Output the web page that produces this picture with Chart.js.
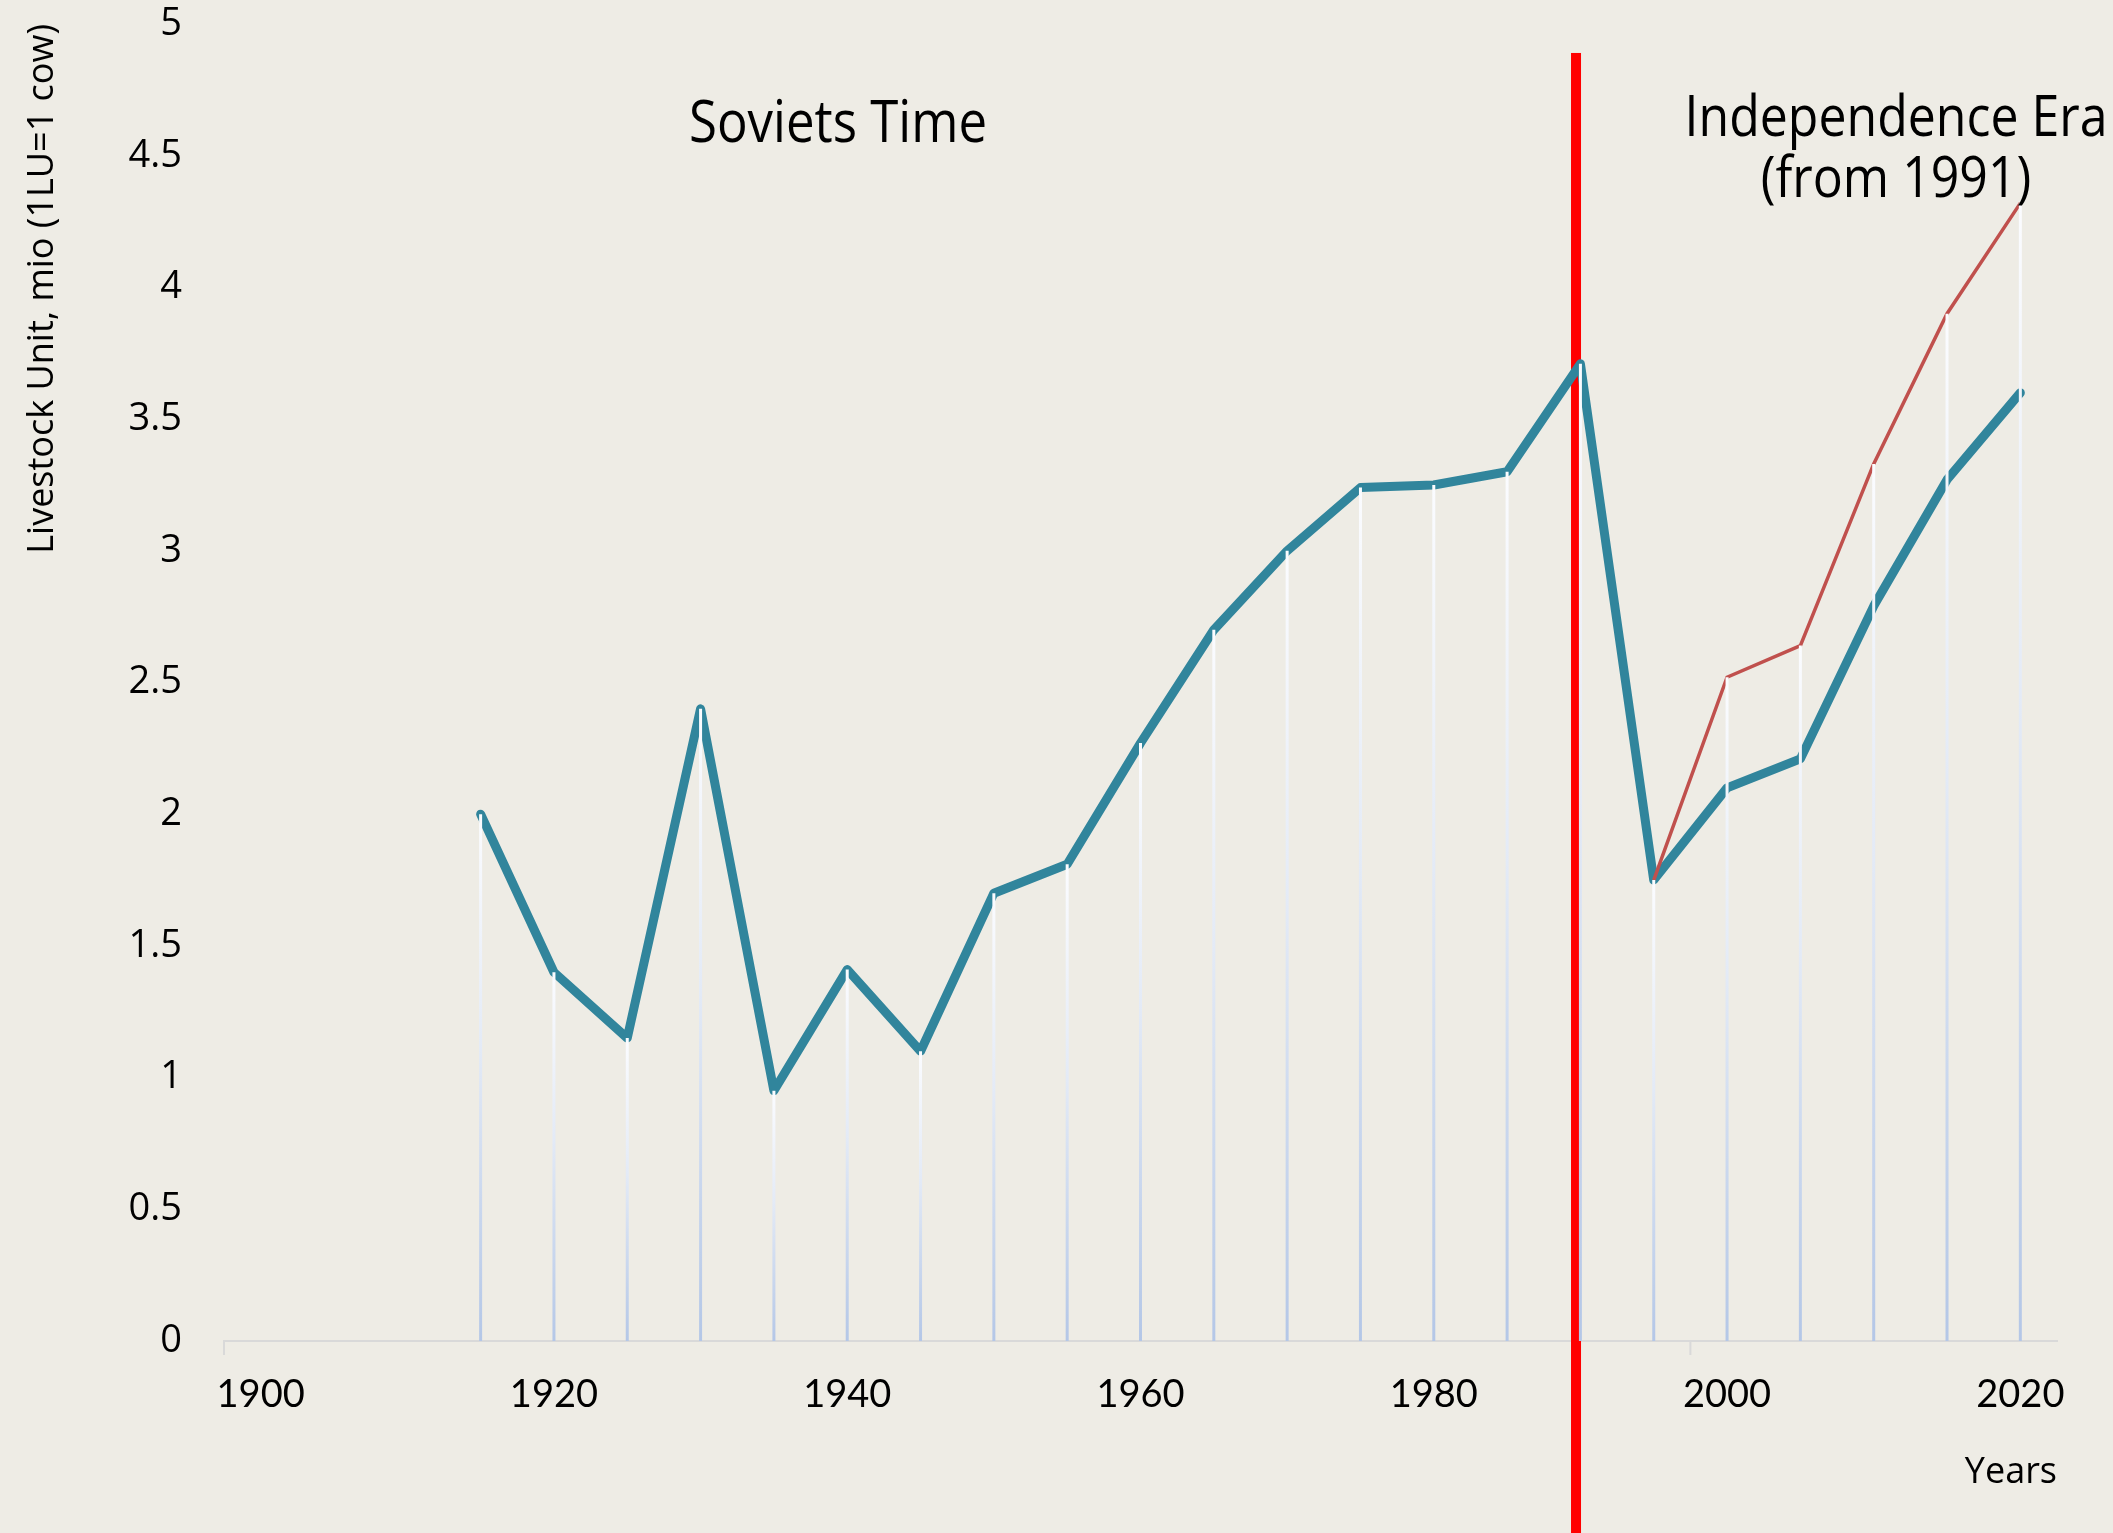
<!DOCTYPE html>
<html>
<head>
<meta charset="utf-8">
<title>Livestock Units</title>
<script src="https://cdn.jsdelivr.net/npm/chart.js@4/dist/chart.umd.min.js"></script>
<style>
  html, body { margin: 0; padding: 0; background: #eeece5; }
  #wrap { width: 2113px; height: 1533px; }
</style>
</head>
<body>
<div id="wrap"><canvas id="lu-chart" width="2113" height="1533"></canvas></div>
<script>
// ── Data ─────────────────────────────────────────────────────────
const years = [1915, 1920, 1925, 1930, 1935, 1940, 1945, 1950, 1955, 1960, 1965,
               1970, 1975, 1980, 1985, 1990, 1995, 2000, 2005, 2010, 2015, 2020];
const livestockUnits = [2.0, 1.4, 1.15, 2.4, 0.95, 1.41, 1.1, 1.7, 1.81, 2.27, 2.7,
                        3.0, 3.24, 3.25, 3.3, 3.71, 1.75, 2.1, 2.21, 2.79, 3.27, 3.6];
const altYears = [1995, 2000, 2005, 2010, 2015, 2020];
const altUnits = [1.75, 2.52, 2.64, 3.33, 3.9, 4.32];
const xTickYears = [1900, 1920, 1940, 1960, 1980, 2000, 2020];
const xMarkYears = [1897.5, 1997.5];
const yTicks = [0, 0.5, 1, 1.5, 2, 2.5, 3, 3.5, 4, 4.5, 5];
const eraBreakYear = 1989.7;

// ── Plugins ──────────────────────────────────────────────────────
// text in the reference is a bit taller than wide, so squeeze it
const stretchedText = (ctx, txt, cx, cy, sy) => {
  ctx.save(); ctx.translate(cx, cy); ctx.scale(1, sy); ctx.fillText(txt, 0, 0); ctx.restore();
};

const eraMarks = {
  id: 'eraMarks',
  beforeDatasetsDraw(chart) {
    const { ctx, scales: { x, y } } = chart;
    ctx.save();
    // small tick marks under the axis
    ctx.strokeStyle = '#d9d9d9';
    ctx.lineWidth = 2;
    xMarkYears.forEach(v => {
      const px = x.getPixelForValue(v);
      ctx.beginPath(); ctx.moveTo(px, y.bottom); ctx.lineTo(px, y.bottom + 14); ctx.stroke();
    });
    // red separator between the two eras
    const rx = x.getPixelForValue(eraBreakYear);
    const top = y.getPixelForValue(4.89);
    ctx.fillStyle = '#ff0000';
    ctx.fillRect(rx - 5, top, 10, chart.height - top);
    ctx.restore();
  },
  afterDatasetsDraw(chart) {
    // drop lines from the highest series value down to the axis
    const { ctx, scales: { x, y } } = chart;
    const base = y.getPixelForValue(0);
    ctx.save();
    ctx.lineWidth = 3;
    years.forEach((yr, i) => {
      const j = altYears.indexOf(yr);
      const v = Math.max(livestockUnits[i], j >= 0 ? altUnits[j] : 0);
      const px = x.getPixelForValue(yr), py = y.getPixelForValue(v);
      const g = ctx.createLinearGradient(0, py, 0, base);
      g.addColorStop(0, '#fbfcff');
      g.addColorStop(0.45, '#e3eaf6');
      g.addColorStop(1, '#b4c7e7');
      ctx.strokeStyle = g;
      ctx.beginPath(); ctx.moveTo(px, py); ctx.lineTo(px, base); ctx.stroke();
    });
    ctx.restore();
  },
  afterDraw(chart) {
    const { ctx } = chart;
    ctx.save();
    ctx.fillStyle = '#000';
    ctx.textAlign = 'center';
    ctx.textBaseline = 'alphabetic';
    ctx.font = '51px "Open Sans"';
    stretchedText(ctx, 'Soviets Time', 838, 142, 1.15);
    ctx.font = '50px "Open Sans"';
    stretchedText(ctx, 'Independence Era', 1896, 136, 1.12);
    stretchedText(ctx, '(from 1991)', 1896, 197, 1.12);
    ctx.restore();
  }
};

// ── Chart ────────────────────────────────────────────────────────
new Chart(document.getElementById('lu-chart'), {
  type: 'line',
  data: {
    datasets: [
      {
        label: 'Livestock units',
        data: years.map((yr, i) => ({ x: yr, y: livestockUnits[i] })),
        borderColor: '#31859c', borderWidth: 9, pointRadius: 0,
        borderCapStyle: 'round', borderJoinStyle: 'round', fill: false, order: 1
      },
      {
        label: 'Livestock units (alt.)',
        data: altYears.map((yr, i) => ({ x: yr, y: altUnits[i] })),
        borderColor: '#c0504d', borderWidth: 3.5, pointRadius: 0, fill: false, order: 0
      }
    ]
  },
  options: {
    responsive: false,
    animation: false,
    devicePixelRatio: 1,
    layout: { padding: { top: 24, right: 56, bottom: 0, left: 0 } },
    plugins: { legend: { display: false }, tooltip: { enabled: false } },
    scales: {
      x: {
        type: 'linear', min: 1897.5, max: 2022.5,
        afterBuildTicks: s => { s.ticks = xTickYears.map(v => ({ value: v })); },
        afterFit: s => { s.height = 192; },
        grid: { display: false, drawTicks: false },
        border: { display: true, color: '#d9d9d9', width: 2 },
        ticks: { font: { family: 'Lato', size: 38 }, color: '#000', padding: 31,
                 maxRotation: 0, autoSkip: false, callback: v => String(v) },
        title: { display: true, text: 'Years', align: 'end', color: '#000',
                 font: { family: 'Open Sans', size: 36 }, padding: { top: 0, bottom: 39 } }
      },
      y: {
        min: 0, max: 5,
        afterBuildTicks: s => { s.ticks = yTicks.map(v => ({ value: v })); },
        afterFit: s => { s.width = 224; s.paddingTop = 0; s.paddingBottom = 0; },
        grid: { display: false, drawTicks: false },
        border: { display: false },
        ticks: { font: { family: 'Open Sans', size: 38 }, color: '#000', padding: 42,
                 callback: v => String(v) },
        title: { display: true, text: 'Livestock Unit, mio (1LU=1 cow)', align: 'end', color: '#000',
                 font: { family: 'Open Sans', size: 36 }, padding: { top: 21, bottom: 0 } }
      }
    }
  },
  plugins: [eraMarks]
});
</script>
</body>
</html>
